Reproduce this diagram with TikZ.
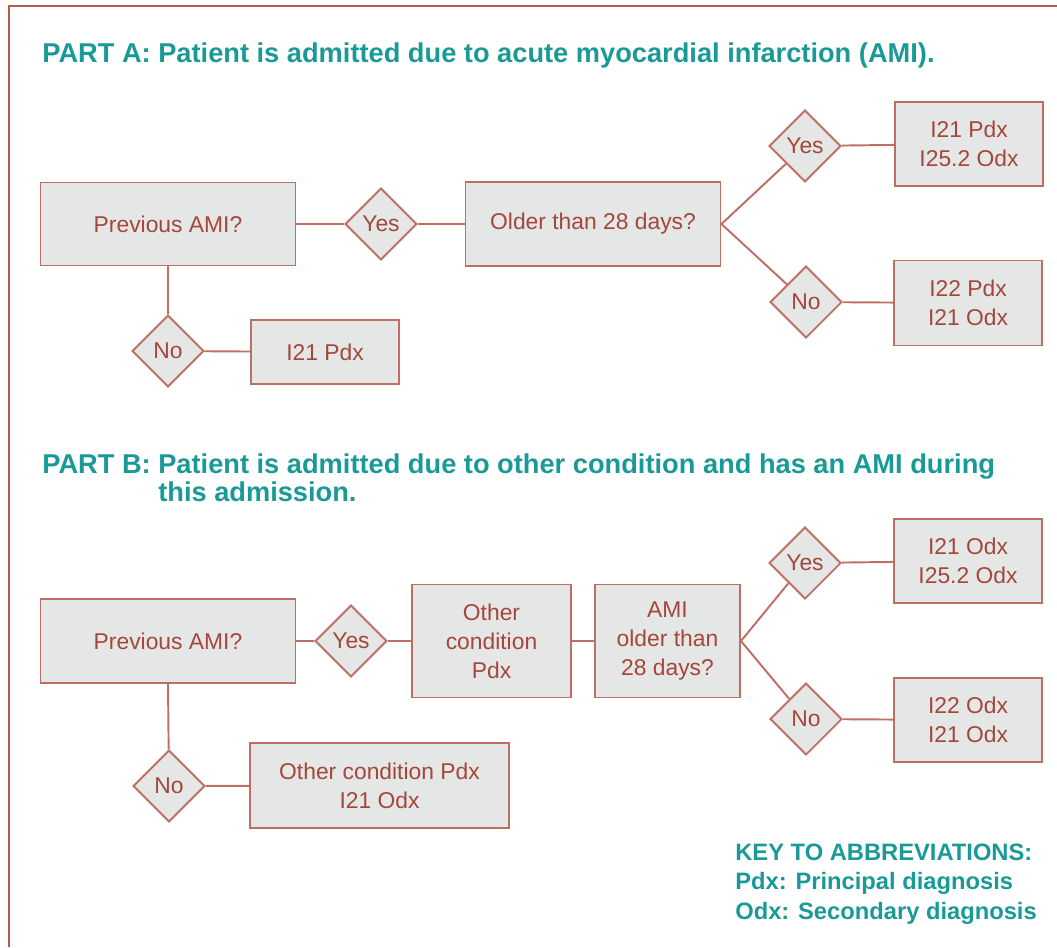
\documentclass[tikz,border=0pt]{standalone}
\usepackage{fontspec}
\usepackage{xcolor}
\usepackage{tikz}
\usetikzlibrary{shapes.geometric}
\setmainfont{Liberation Sans}

\definecolor{boxred}{HTML}{BE6E62}
\definecolor{txtred}{HTML}{A4473B}
\definecolor{boxgray}{HTML}{E5E6E6}
\definecolor{headteal}{HTML}{1A9A96}
\definecolor{framered}{HTML}{B35A4A}

\tikzset{
	box/.style={draw=boxred,fill=boxgray,line width=1.1pt,text=txtred,align=center,inner sep=0pt,font=\fontsize{13}{16.5}\selectfont},
	choice/.style={diamond,draw=boxred,fill=boxgray,line width=1.1pt,text=txtred,inner sep=0pt,minimum width=1.44cm,minimum height=1.44cm,font=\fontsize{13}{16.5}\selectfont},
	link/.style={draw=boxred,line width=1.1pt},
	head/.style={text=headteal,inner sep=0pt,anchor=base west,font=\bfseries\fontsize{15.5}{16.4}\selectfont}
}

\begin{document}
\begin{tikzpicture}[x=0.02cm,y=-0.02cm]
				\useasboundingbox (0,0) rectangle (1057,947);
				\draw[framered,line width=1.7pt] (9,947) -- (9,6) -- (1057,6);%frame
				
				%PART A
				\node[head] (headA) at (42,62) {PART A: Patient is admitted due to acute myocardial infarction (AMI).};
				\node[box,minimum width=5.1cm,minimum height=1.66cm] (aprev) at (168,224) {Previous AMI?};
				\node[choice] (ayes) at (381,224) {Yes};
				\node[box,minimum width=5.1cm,minimum height=1.68cm] (aolder) at (593,224) {Older than 28 days?};
				\node[choice] (ayesold) at (805,146) {Yes};
				\node[choice] (anoold) at (806,302) {No};
				\node[box,minimum width=2.96cm,minimum height=1.68cm] (aold) at (969,144) {I21 Pdx\\I25.2 Odx};
				\node[box,minimum width=2.96cm,minimum height=1.7cm] (anew) at (968,303) {I22 Pdx\\I21 Odx};
				\node[choice] (ano) at (168,351) {No};
				\node[box,minimum width=2.96cm,minimum height=1.28cm] (afirst) at (325,352) {I21 Pdx};
				
				\draw[link] (aprev) -- (ayes);
				\draw[link] (ayes) -- (aolder);
				\draw[link] (aolder.east) -- (ayesold);
				\draw[link] (aolder.east) -- (anoold);
				\draw[link] (ayesold) -- (aold);
				\draw[link] (anoold) -- (anew);
				\draw[link] (aprev) -- (ano);
				\draw[link] (ano) -- (afirst);
				
				%PART B
				\node[head] (headB) at (42,473) {\begin{tabular}[t]{@{}l@{\ }l@{}}PART B: & Patient is admitted due to other condition and has an AMI during\\ & this admission.\end{tabular}};
				\node[box,minimum width=5.1cm,minimum height=1.68cm] (bprev) at (168,641) {Previous AMI?};
				\node[choice] (byes) at (351,641) {Yes};
				\node[box,minimum width=3.18cm,minimum height=2.26cm] (bother) at (491.5,641) {Other\\condition\\Pdx};
				\node[box,minimum width=2.9cm,minimum height=2.26cm] (bolder) at (667.5,641) {AMI\\older than\\28 days?};
				\node[choice] (byesold) at (805,563) {Yes};
				\node[choice] (bnoold) at (806,719) {No};
				\node[box,minimum width=2.96cm,minimum height=1.68cm] (bold) at (968,561) {I21 Odx\\I25.2 Odx};
				\node[box,minimum width=2.96cm,minimum height=1.68cm] (bnew) at (968,720) {I22 Odx\\I21 Odx};
				\node[choice] (bno) at (169,786) {No};
				\node[box,minimum width=5.18cm,minimum height=1.7cm] (bfirst) at (379.5,785.5) {Other condition Pdx\\I21 Odx};
				
				\draw[link] (bprev) -- (byes);
				\draw[link] (byes) -- (bother);
				\draw[link] (bother) -- (bolder);
				\draw[link] (bolder.east) -- (byesold);
				\draw[link] (bolder.east) -- (bnoold);
				\draw[link] (byesold) -- (bold);
				\draw[link] (bnoold) -- (bnew);
				\draw[link] (bprev.south) -- (bno);
				\draw[link] (bno) -- (bfirst);
				
				%key
				\node[head,font=\bfseries\fontsize{13.5}{16.8}\selectfont] (key) at (735,860) {\begin{tabular}[t]{@{}l@{}}KEY TO ABBREVIATIONS:\\Pdx: Principal diagnosis\\Odx: Secondary diagnosis\end{tabular}};
			\end{tikzpicture}
\end{document}
